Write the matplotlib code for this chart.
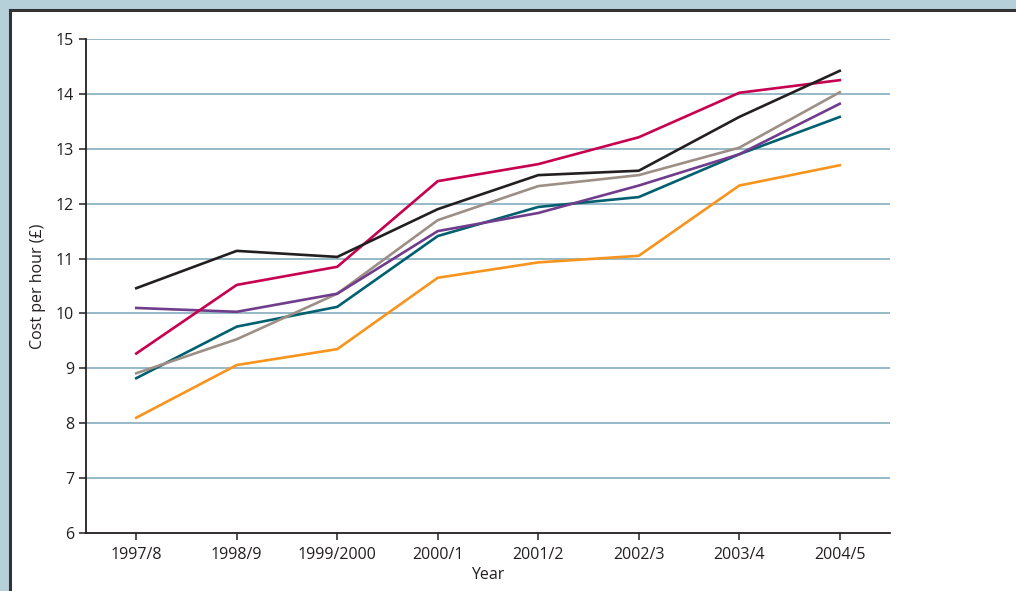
import matplotlib
matplotlib.use("Agg")
import matplotlib.pyplot as plt
from matplotlib.patches import Rectangle
from matplotlib.lines import Line2D

plt.rcParams['font.family'] = ['Open Sans', 'DejaVu Sans']

# data
years = ['1997/8', '1998/9', '1999/2000', '2000/1', '2001/2', '2002/3', '2003/4', '2004/5']
black = [10.46, 11.14, 11.03, 11.90, 12.52, 12.60, 13.58, 14.42]
red = [9.27, 10.52, 10.85, 12.41, 12.72, 13.21, 14.02, 14.25]
purple = [10.10, 10.03, 10.36, 11.50, 11.83, 12.33, 12.90, 13.82]
teal = [8.82, 9.76, 10.12, 11.41, 11.94, 12.12, 12.90, 13.58]
grey = [8.91, 9.53, 10.36, 11.70, 12.32, 12.52, 13.02, 14.03]
orange = [8.10, 9.06, 9.35, 10.65, 10.93, 11.05, 12.33, 12.70]

series = [
    (teal, '#00606f'),
    (orange, '#f7941d'),
    (grey, '#9e8f86'),
    (purple, '#703c8c'),
    (red, '#c7004f'),
    (black, '#231f20'),
]

fig = plt.figure(figsize=(10.16, 5.91), dpi=100)
fig.patch.set_facecolor('#b6d0da')

# white panel with dark top/left edge
fig.patches.append(Rectangle((10 / 1016, 0), 1, 1 - 10 / 591, transform=fig.transFigure,
                             facecolor='white', edgecolor='none', zorder=-2))
fig.lines.append(Line2D([10 / 1016, 1], [1 - 10 / 591, 1 - 10 / 591], transform=fig.transFigure,
                        color='#333333', lw=2.2, zorder=-1))
fig.lines.append(Line2D([10 / 1016, 10 / 1016], [0, 1 - 10 / 591], transform=fig.transFigure,
                        color='#333333', lw=2.2, zorder=-1))

ax = fig.add_axes([86 / 1016, 58 / 591, (890 - 86) / 1016, (533 - 39) / 591])
ax.set_facecolor('none')

x = list(range(len(years)))
for vals, c in series:
    ax.plot(x, vals, color=c, lw=1.9, zorder=3)

ax.set_xlim(-0.5, 7.5)
ax.set_ylim(6, 15)
ax.set_yticks(range(6, 16))
ax.set_xticks(x)
ax.set_xticklabels(years)

for v in range(7, 16):
    ax.axhline(v, color='#8fb4c4', lw=1.3, zorder=1)

for s in ['top', 'right']:
    ax.spines[s].set_visible(False)
for s in ['left', 'bottom']:
    ax.spines[s].set_color('#231f20')
    ax.spines[s].set_linewidth(1.3)
ax.tick_params(axis='both', colors='#231f20', labelsize=11.5, length=5, width=1.1)
ax.tick_params(axis='x', pad=5)

ax.set_xlabel('Year', fontsize=11.5, color='#231f20', labelpad=3)
ax.set_ylabel('Cost per hour (£)', fontsize=11.5, color='#231f20', labelpad=7)

fig.savefig('out.png', dpi=100)
